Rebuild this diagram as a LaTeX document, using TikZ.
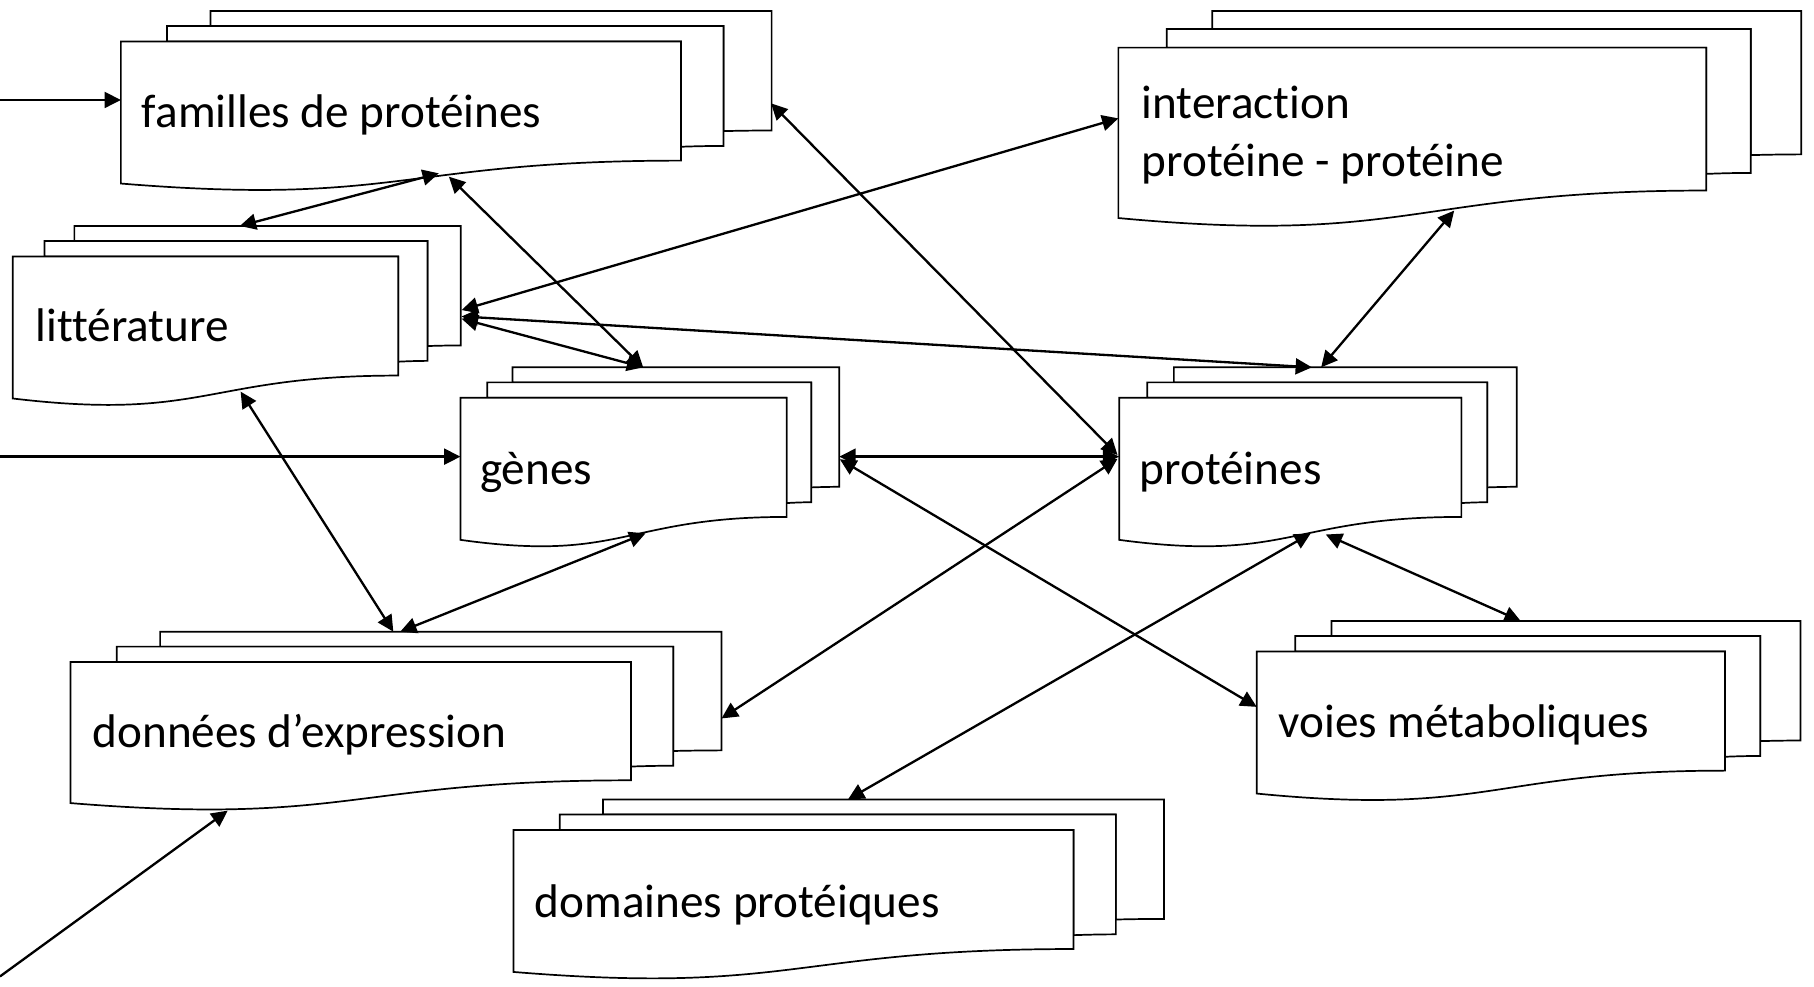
\documentclass[tikz,border=0pt]{standalone}
\usepackage{fontspec}
\setmainfont{Carlito}[Ligatures={NoCommon,NoContextual,NoRequired},Contextuals=NoAlternate]
\usetikzlibrary{arrows.meta}
\tikzset{
  page/.style={draw=black, fill=white, line width=0.42pt, line join=miter},
  conn/.style={line width=0.57pt, {Triangle[length=4pt,width=3.9pt]}-{Triangle[length=4pt,width=3.9pt]}},
  inarrow/.style={line width=0.57pt, -{Triangle[length=4pt,width=3.9pt]}},
  lbl/.style={anchor=base west, inner sep=0pt, font=\fontsize{11.6}{14}\selectfont},
}
% multi-document shape: x, y (top-left), width, height
\newcommand\mdoc[4]{%
  \begin{scope}[shift={(#1,#2)}, xscale=#3, yscale=#4]
    \draw[page] (0.13759,0.08403) -- (0.13759,0) -- (1,0) -- (1,0.66630)
      .. controls (0.96296,0.66630) and (0.92593,0.66977) .. (0.92593,0.66977) -- (0.92593,0.08403) -- cycle;
    \draw[page] (0.07093,0.17014) -- (0.07093,0.08403) -- (0.92593,0.08403) -- (0.92593,0.75241)
      .. controls (0.89343,0.75241) and (0.86088,0.75704) .. (0.86088,0.75704) -- (0.86088,0.17014) -- cycle;
    \draw[page] (0,0.96213) .. controls (0.43046,1.08991) and (0.43046,0.83435) .. (0.86088,0.83435)
      -- (0.86088,0.17014) -- (0,0.17014) -- cycle;
  \end{scope}}
\begin{document}
\begin{tikzpicture}[x=0.01cm, y=-0.01cm]
\useasboundingbox (0,0) rectangle (1568,853);

% documents
\mdoc{104.5}{9.5}{562.5}{155}
\mdoc{966.7}{9.5}{590.3}{186}
\mdoc{11}{195.3}{387.2}{155}
\mdoc{398}{317.5}{327.5}{155}
\mdoc{967.4}{317.5}{343.6}{155}
\mdoc{61}{546}{562.7}{154}
\mdoc{1086.3}{536.8}{470.1}{155}
\mdoc{443.9}{691}{562.3}{155}

% labels
\node[lbl] (fam) at (122,110.4) {familles de protéines};
\node[lbl] (int1) at (986.2,102.3) {interaction};
\node[lbl] (int2) at (986.2,152.7) {protéine - protéine};
\node[lbl] (lit) at (30,295.3) {littérature};
\node[lbl] (gen) at (414.3,419.2) {gènes};
\node[lbl] (prot) at (984.5,418.7) {protéines};
\node[lbl] (don) at (79.4,646.3) {données d’expression};
\node[lbl] (voi) at (1104.4,637.6) {voies métaboliques};
\node[lbl] (dom) at (461.7,792.9) {domaines protéiques};

% connection points
\coordinate (inF) at (0,86.4);       \coordinate (famL) at (104.5,86.4);
\coordinate (inG) at (0,394.7);      \coordinate (genL) at (398,394.7);
\coordinate (inD) at (0,844);        \coordinate (donW) at (196.8,700.7);
\coordinate (famW1) at (379.3,149.8); \coordinate (litT) at (207.3,195.3);
\coordinate (famW2) at (388,152.7);  \coordinate (genT) at (556,317.5);
\coordinate (litR1) at (399,268);    \coordinate (intL) at (966.7,102.3);
\coordinate (litR2) at (399,273.5);  \coordinate (protT1) at (1134,317.5);
\coordinate (litR3) at (399,275.5);
\coordinate (intW) at (1257,182);    \coordinate (protT2) at (1142,317.5);
\coordinate (famR) at (666.5,89.3);  \coordinate (protL1) at (966,393.3);
\coordinate (genR1) at (725.5,394.7); \coordinate (protL2) at (967.4,394.7);
\coordinate (genR2) at (726,397);    \coordinate (voiL) at (1086.3,611);
\coordinate (protL3) at (966,396.5); \coordinate (donR) at (623.7,621);
\coordinate (protW1) at (1133,461);  \coordinate (domT) at (733,691);
\coordinate (protW2) at (1146,462);  \coordinate (voiT) at (1314.5,536.8);
\coordinate (litW) at (208,338.5);   \coordinate (donT1) at (340,546);
\coordinate (genW) at (558,461);     \coordinate (donT2) at (346,546);

% incoming arrows
\draw[inarrow] (inF) -- (famL);
\draw[inarrow] (inG) -- (genL);
\draw[inarrow] (inD) -- (donW);

% connectors
\draw[conn] (famW1) -- (litT);
\draw[conn] (famW2) -- (genT);
\draw[conn] (litR1) -- (intL);
\draw[conn] (litR2) -- (protT1);
\draw[conn] (litR3) -- (genT);
\draw[conn] (intW) -- (protT2);
\draw[conn] (famR) -- (protL1);
\draw[conn] (genR1) -- (protL2);
\draw[conn] (genR2) -- (voiL);
\draw[conn] (protL3) -- (donR);
\draw[conn] (protW1) -- (domT);
\draw[conn] (protW2) -- (voiT);
\draw[conn] (litW) -- (donT1);
\draw[conn] (genW) -- (donT2);
\end{tikzpicture}
\end{document}
